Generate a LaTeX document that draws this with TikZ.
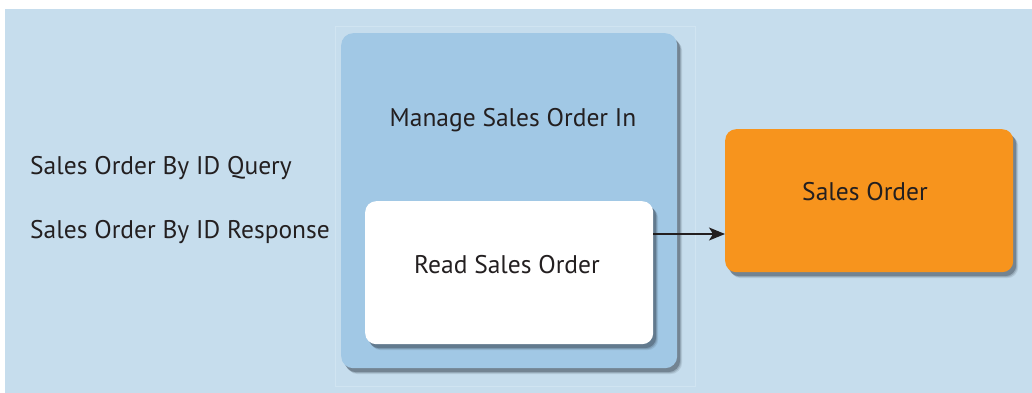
\documentclass[tikz,border=0pt]{standalone}
\usepackage{fontspec}
\setmainfont{PT Sans}
\usetikzlibrary{shadows,arrows.meta}
\definecolor{bgblue}{HTML}{C6DDED}
\definecolor{boxblue}{HTML}{A1C8E5}
\definecolor{faint}{HTML}{D0E4F1}
\definecolor{orangebox}{HTML}{F7941D}
\definecolor{txt}{HTML}{231F20}
\definecolor{shad}{HTML}{2E3A48}
\tikzset{
  shadowed/.style={
    drop shadow={shadow xshift=5pt,shadow yshift=-6pt,fill=shad,opacity=0.12},
    drop shadow={shadow xshift=4pt,shadow yshift=-5pt,fill=shad,opacity=0.2},
    drop shadow={shadow xshift=3pt,shadow yshift=-4pt,fill=shad,opacity=0.35}},
  lbl/.style={font=\fontsize{25.5}{30}\selectfont, text=txt, inner sep=0pt},
}
\begin{document}
\begin{tikzpicture}[x=1pt,y=-1pt]
\useasboundingbox (0,0) rectangle (1032,393);
\fill[white] (0,0) rectangle (1032,393);
\fill[bgblue] (5,9) rectangle (1032,393);
\draw[faint, line width=1pt] (335,27) rectangle (695,386);
\node[shadowed, fill=boxblue, rounded corners=12pt, minimum width=336pt, minimum height=335pt, anchor=north west, inner sep=0pt] (outer) at (341,33) {};
\node[lbl] (outerlbl) at (513,120) {Manage Sales Order In};
\node[shadowed, fill=white, rounded corners=11pt, minimum width=288pt, minimum height=143pt, anchor=north west, inner sep=0pt] (read) at (365,201) {};
\node[lbl] (readlbl) at (507,265) {Read Sales Order};
\node[shadowed, fill=orangebox, rounded corners=11pt, minimum width=288pt, minimum height=143pt, anchor=north west, inner sep=0pt] (so) at (725,129) {};
\node[lbl] (solbl) at (865,192) {Sales Order};
\node[lbl, anchor=west] (q) at (30,168) {Sales Order By ID Query};
\node[lbl, anchor=west] (r) at (30,232) {Sales Order By ID Response};
\coordinate (a1) at (read.east |- 0,234);
\coordinate (a2) at (so.west |- 0,234);
\draw[-{Stealth[length=16pt,width=13pt,inset=4pt]}, line width=1.5pt, txt] (a1) -- (a2);
\end{tikzpicture}
\end{document}
